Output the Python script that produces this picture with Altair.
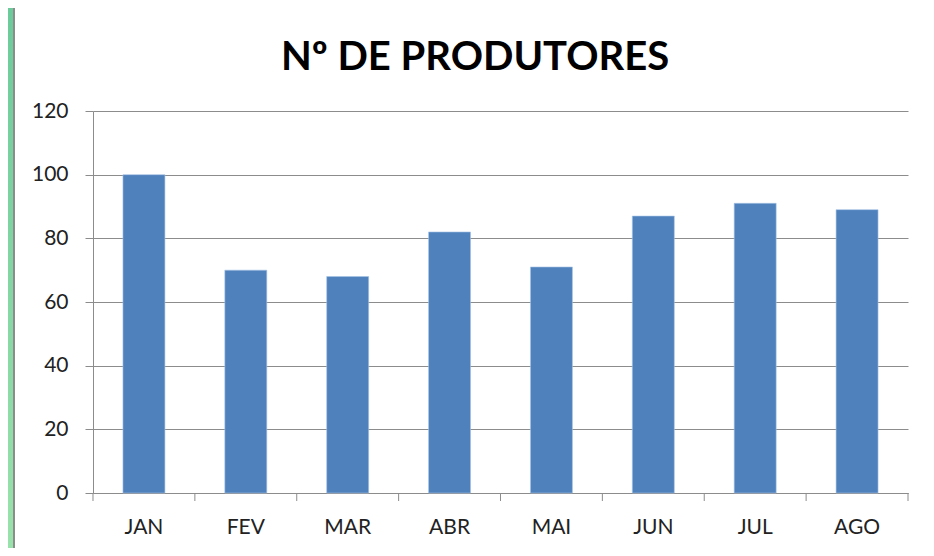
import altair as alt
import pandas as pd

months = ["JAN", "FEV", "MAR", "ABR", "MAI", "JUN", "JUL", "AGO"]
producers = [100, 70, 68, 82, 71, 87, 91, 89]
title_text = ["Nº DE PRODUTORES"]
y_ticks = [0, 20, 40, 60, 80, 100, 120]

df = pd.DataFrame({"mes": months, "produtores": producers})
df_title = pd.DataFrame({"t": title_text})
df_one = pd.DataFrame({"a": [0]})

W, H = 815, 382
PL, PT = 85, 103
SVG_W, SVG_H = 918, 540

x_enc = alt.X("mes:N", sort=months,
              scale=alt.Scale(paddingInner=0.588, paddingOuter=0.294),
              axis=alt.Axis(title=None, labelAngle=0, ticks=False, labelFont="Lato",
                            labelFontSize=21, labelColor="#222222", labelPadding=23,
                            domainColor="#8c8c8c", domainWidth=1, grid=False))
y_enc = alt.Y("produtores:Q", scale=alt.Scale(domain=[0, 120], nice=False),
              axis=alt.Axis(title=None, values=y_ticks, labelFont="Lato", labelFontSize=21,
                            labelColor="#222222", labelPadding=17, tickSize=8,
                            tickColor="#8c8c8c", domainColor="#8c8c8c", gridColor="#8c8c8c",
                            gridWidth=1, grid=True))

strip = alt.Chart(df_one).mark_rect(
    fill=alt.Gradient(gradient="linear", x1=0, x2=0, y1=0, y2=1,
                      stops=[alt.GradientStop(color="#6ccb9b", offset=0),
                             alt.GradientStop(color="#9ae2ab", offset=1)])
).encode(x=alt.value(-PL), x2=alt.value(5 - PL), y=alt.value(-PT), y2=alt.value(SVG_H - PT))

border = alt.Chart(df_one).mark_rule(color="#8c8c8c", strokeWidth=2).encode(
    x=alt.value(6 - PL), y=alt.value(-PT), y2=alt.value(SVG_H - PT)
)

bars = alt.Chart(df).mark_bar(color="#4f81bd", stroke="#a8c4e6", strokeWidth=0.6).encode(
    x=x_enc, y=y_enc
)

ticks = alt.Chart(df).mark_rule(color="#8c8c8c", xOffset=-50.94).encode(
    x=alt.X("mes:N", sort=months), y=alt.value(H), y2=alt.value(H + 8)
)
end_tick = alt.Chart(df_one).mark_rule(color="#8c8c8c").encode(
    x=alt.value(W), y=alt.value(H), y2=alt.value(H + 8)
)

title = alt.Chart(df_title).mark_text(
    font="Lato", fontSize=40, fontWeight="bold", color="#000000", align="center",
    baseline="alphabetic"
).encode(text="t:N", x=alt.value(382), y=alt.value(-41))

chart = alt.layer(strip, border, bars, ticks, end_tick, title).properties(
    width=W, height=H,
    autosize=alt.AutoSizeParams(type="none"),
    padding={"left": PL, "top": PT, "right": SVG_W - PL - W, "bottom": SVG_H - PT - H},
).configure_view(stroke=None)

chart.save("out.html", embed_options={"renderer": "svg", "actions": False})
